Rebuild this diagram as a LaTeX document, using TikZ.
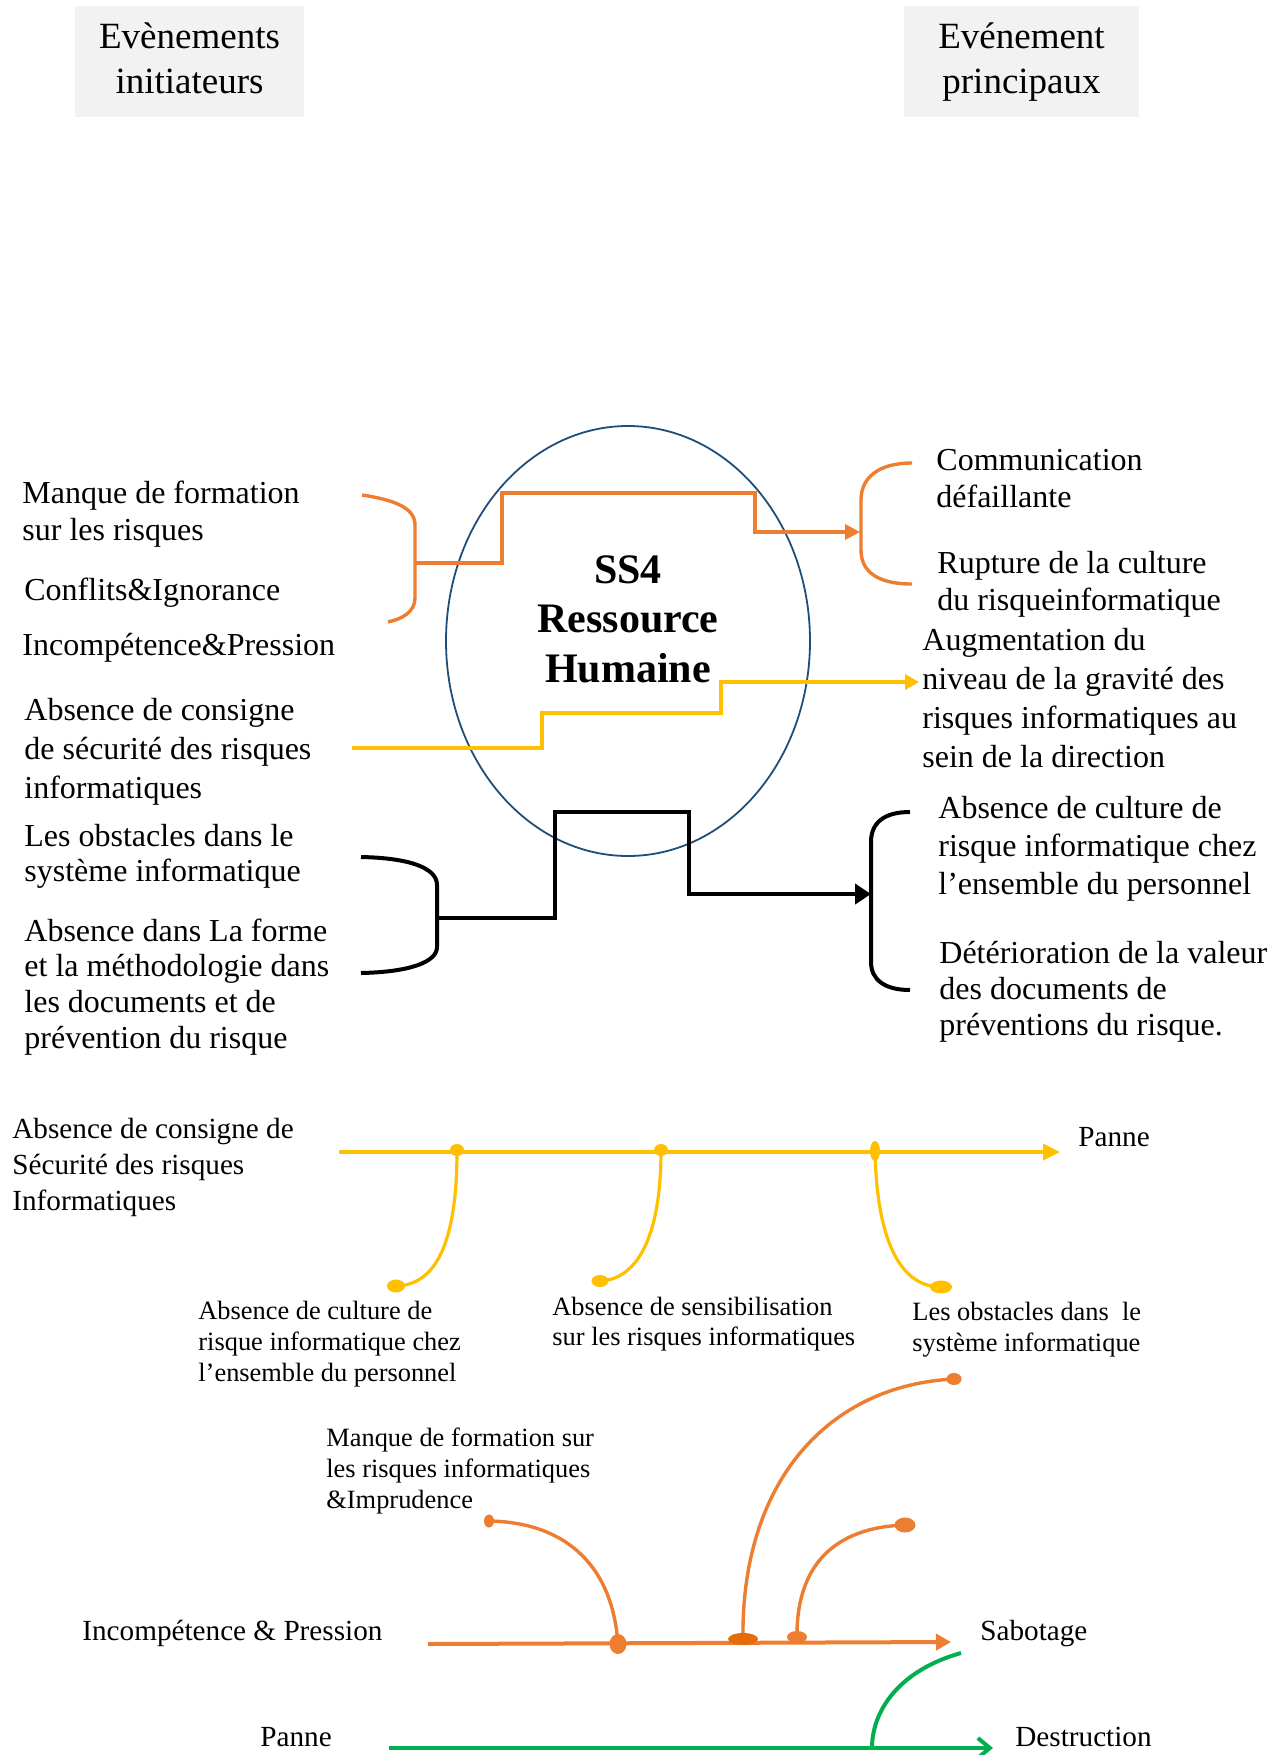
\documentclass[tikz,border=0pt]{standalone}
\usepackage{fontspec}
\setmainfont{Liberation Serif}
\usetikzlibrary{arrows.meta,shapes.geometric}
\definecolor{ora}{HTML}{ED7D31}
\definecolor{orad}{HTML}{E46C0A}
\definecolor{yel}{HTML}{FFC000}
\definecolor{grn}{HTML}{00B050}
\definecolor{ellc}{HTML}{1F4E79}
\definecolor{hdr}{HTML}{F2F2F2}
\begin{document}
\begin{tikzpicture}[x=0.5pt,y=-0.5pt,
  hdrbox/.style={fill=hdr,draw=none,align=center,inner sep=0pt,font=\fontsize{18.5}{22.5}\selectfont},
  big/.style={align=left,anchor=base west,inner sep=0pt,font=\fontsize{16}{#1}\selectfont},
  mid/.style={align=left,anchor=base west,inner sep=0pt,font=\fontsize{14.6}{#1}\selectfont},
  small/.style={align=left,anchor=base west,inner sep=0pt,font=\fontsize{13.2}{#1}\selectfont},
  oline/.style={draw=ora,line width=1.7pt},
  yline/.style={draw=yel,line width=1.7pt},
  kline/.style={draw=black,line width=2pt},
  ydot/.style={ellipse,fill=yel,draw=none,inner sep=0pt},
  odot/.style={ellipse,fill=ora,draw=none,inner sep=0pt},
]
\useasboundingbox[fill=white] (0,0) rectangle (1283,1755);

% headers
\node[hdrbox,minimum width=114.5pt,minimum height=55.5pt] (h1) at (189.5,62) {\strut Evènements\\\strut initiateurs};
\node[hdrbox,minimum width=117.5pt,minimum height=55.5pt] (h2) at (1021.5,62) {\strut Evénement\\\strut principaux};

% central ellipse (base anchor = last line baseline)
\node[ellipse,draw=ellc,line width=0.9pt,minimum width=182pt,minimum height=215pt,inner sep=0pt] (ss4) at (628,641) {};
\node[align=center,anchor=base,inner sep=0pt,font=\bfseries\fontsize{21}{24.75}\selectfont] (ss4t) at (628,682) {SS4\\Ressource\\Humaine};

% left texts
\node[big=18.5pt] (m1) at (22,540) {Manque de formation\\sur les risques};
\node[big=18.5pt] (m2) at (24,600) {Conflits\&Ignorance};
\node[big=18.5pt] (m3) at (22,655) {Incompétence\&Pression};
\node[big=19.5pt] (m4) at (24,798) {Absence de consigne\\de sécurité des risques\\informatiques};
\node[big=17.5pt] (m5) at (24,881) {Les obstacles dans le\\système informatique};
\node[big=17.8pt] (m6) at (24,1048) {Absence dans La forme\\et la méthodologie dans\\les documents et de\\prévention du risque};

% right texts
\node[big=18.5pt] (r1) at (936,507) {Communication\\défaillante};
\node[big=18.5pt] (r2) at (937,610) {Rupture de la culture\\du risqueinformatique};
\node[big=19.5pt] (r3) at (922,767) {Augmentation du\\niveau de la gravité des\\risques informatiques au\\sein de la direction};
\node[big=19pt] (r4) at (938,894) {Absence de culture de\\risque informatique chez\\l’ensemble du personnel};
\node[big=18pt] (r5) at (939,1035) {Détérioration de la valeur\\des documents de\\préventions du risque.};

% orange brackets and step connector
\draw[oline] (362,495) .. controls (395,500) and (415,508) .. (415,525) -- (415,598) .. controls (415,612) and (402,619) .. (388,622);
\draw[oline] (912,463) .. controls (878,463) and (861,478) .. (861,500) -- (861,550) .. controls (861,572) and (878,584) .. (912,584);
\coordinate (obl) at (415,563);
\coordinate (obr) at (860,532);
\draw[oline,-{Triangle[length=7.5pt,width=7.5pt]}] (obl) -| (502,493) -| (755,532) -- (obr);

% yellow step connector
\coordinate (yl) at (352,748);
\coordinate (yr) at (919,682);
\draw[yline,-{Triangle[length=7pt,width=7.5pt]}] (yl) -| (542,713) -| (721,682) -- (yr);

% black brackets and step connector
\draw[kline] (361,857) .. controls (410,858) and (437,868) .. (437,885) -- (437,947) .. controls (437,962) and (410,972) .. (361,973);
\draw[kline] (910,812) .. controls (885,812) and (871,822) .. (871,842) -- (871,962) .. controls (871,980) and (885,990) .. (910,990);
\coordinate (kl) at (437,918);
\coordinate (kr) at (871,894);
\draw[kline,-{Triangle[length=8pt,width=10pt]}] (kl) -| (555,812) -| (689,894) -- (kr);

% ---------- lower yellow chain ----------
\node[mid=18pt] (y1) at (12,1210) {Absence de consigne de\\Sécurité des risques\\Informatiques};
\node[mid=18pt] (yp) at (1078,1146) {Panne};
\coordinate (ys) at (339,1152);
\coordinate (ye) at (1060,1152);
\draw[draw=yel,line width=2pt,-{Triangle[length=8.5pt,width=8pt]}] (ys) -- (ye);
\node[ydot,minimum width=7pt,minimum height=6pt] (d1) at (457,1150) {};
\node[ydot,minimum width=7pt,minimum height=6pt] (d2) at (661,1150) {};
\node[ydot,minimum width=5pt,minimum height=10pt] (d3) at (875,1151) {};
\node[ydot,minimum width=9pt,minimum height=6.5pt] (e1) at (396,1286) {};
\node[ydot,minimum width=8.5pt,minimum height=6pt] (e2) at (600,1281) {};
\node[ydot,minimum width=11pt,minimum height=6.5pt] (e3) at (941,1287) {};
\draw[draw=yel,line width=1.6pt] (d1.center) .. controls (457,1255) and (430,1285) .. (e1.center);
\draw[draw=yel,line width=1.6pt] (d2.center) .. controls (661,1250) and (630,1280) .. (e2.center);
\draw[draw=yel,line width=1.6pt] (d3.center) .. controls (877,1250) and (905,1287) .. (e3.center);
\node[small=15.3pt] (b1) at (198,1381) {Absence de culture de\\risque informatique chez\\l’ensemble du personnel};
\node[small=15pt] (b2) at (552,1345) {Absence de sensibilisation\\sur les risques informatiques};
\node[small=15.5pt] (b3) at (912,1351) {Les obstacles dans~ le\\système informatique};

% ---------- lower orange chain ----------
\node[small=15.3pt] (o1) at (326,1508) {Manque de formation sur\\les risques informatiques\\\&Imprudence};
\node[mid=18pt] (o2) at (82,1640) {Incompétence \& Pression};
\node[mid=18pt] (o3) at (980,1640) {Sabotage};
\coordinate (os) at (428,1644);
\coordinate (oe) at (951,1642);
\draw[draw=ora,line width=2pt,-{Triangle[length=7.5pt,width=8pt]}] (os) -- (oe);
\node[odot,minimum width=5pt,minimum height=6.5pt] (fa) at (489,1521) {};
\node[odot,minimum width=7.5pt,minimum height=6pt] (fb) at (954,1379) {};
\node[odot,minimum width=10.5pt,minimum height=7.5pt] (fc) at (905,1525) {};
\draw[draw=ora,line width=1.7pt] (618,1644) .. controls (612,1560) and (560,1522) .. (fa.center);
\draw[draw=ora,line width=1.7pt] (743,1642) .. controls (740,1480) and (830,1385) .. (fb.center);
\draw[draw=ora,line width=1.7pt] (797,1635) .. controls (797,1560) and (840,1527) .. (fc.center);
\node[odot,minimum width=8.5pt,minimum height=10pt] (ga) at (618,1644) {};
\node[ellipse,fill=orad,draw=none,inner sep=0pt,minimum width=15pt,minimum height=6pt] (gb) at (743,1639) {};
\node[odot,minimum width=10pt,minimum height=6pt] (gc) at (797,1637) {};

% ---------- green chain ----------
\node[mid=18pt] (p2) at (260,1746) {Panne};
\node[mid=18pt] (dz) at (1015,1746) {Destruction};
\coordinate (gs) at (389,1748);
\coordinate (gz) at (993,1748);
\draw[draw=grn,line width=2pt,-{Straight Barb[length=6pt,width=10pt]}] (gs) -- (gz);
\coordinate (gt) at (961,1653);
\coordinate (gm) at (872,1748);
\draw[draw=grn,line width=2pt] (gt) .. controls (900,1670) and (872,1710) .. (gm);
\end{tikzpicture}
\end{document}
